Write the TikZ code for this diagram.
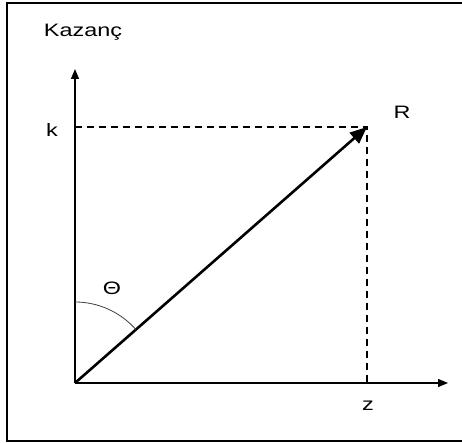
\documentclass[tikz,border=0pt]{standalone}
\usepackage{fontspec}
\setmainfont{Liberation Sans}
\usetikzlibrary{arrows.meta, positioning}
\newcommand{\lblfont}{\fontsize{18pt}{21pt}\selectfont}
\tikzset{
    axis/.style={
        -{Triangle[length=10pt, width=8pt]},
        line width=1.3pt,
        black
    },
    vec/.style={
        -{Triangle[length=17pt, width=14pt]},
        line width=2.6pt,
        black
    },
    guide/.style={
        line width=1.6pt,
        dash pattern=on 7pt off 5pt,
        black
    },
    lbl/.style={
        font=\lblfont,
        inner sep=0pt
    }
}
\begin{document}
\begin{tikzpicture}[x=1pt, y=1pt]
        \useasboundingbox (-75,-60) rectangle (387,383);

        % Frame
        \draw[line width=2pt] (388,380) -- (-68,380) -- (-68,-58.5) -- (388,-58.5);

        % Points
        \coordinate (O) at (0,0);
        \coordinate (ytip) at (0,314);
        \coordinate (xtip) at (373,0);
        \coordinate (R) at (292,256);
        \coordinate (kpt) at (0,256);
        \coordinate (zpt) at (292,0);

        % Guides
        \draw[guide] (kpt) -- (R) -- (zpt);

        % Axes
        \draw[axis] (O) -- (ytip);
        \draw[axis] (O) -- (xtip);

        % Vector
        \draw[vec] (O) -- (R);

        % Angle
        \draw[line width=0.8pt, black!75] (0,81) arc[start angle=90, end angle=41.2, radius=81];

        % Labels
        \node[lbl] (gain) at (8,351) {\scalebox{1.3}[1]{Kazanç}};
        \node[lbl] (klbl) at (-23,253) {\scalebox{1.3}[1]{k}};
        \node[lbl] (rlbl) at (327,271) {\scalebox{1.3}[1]{R}};
        \node[lbl] (zlbl) at (293,-23) {\scalebox{1.3}[1]{z}};
        \node[lbl] (theta) at (37,95) {\scalebox{1.3}[1]{Θ}};
    \end{tikzpicture}
\end{document}
